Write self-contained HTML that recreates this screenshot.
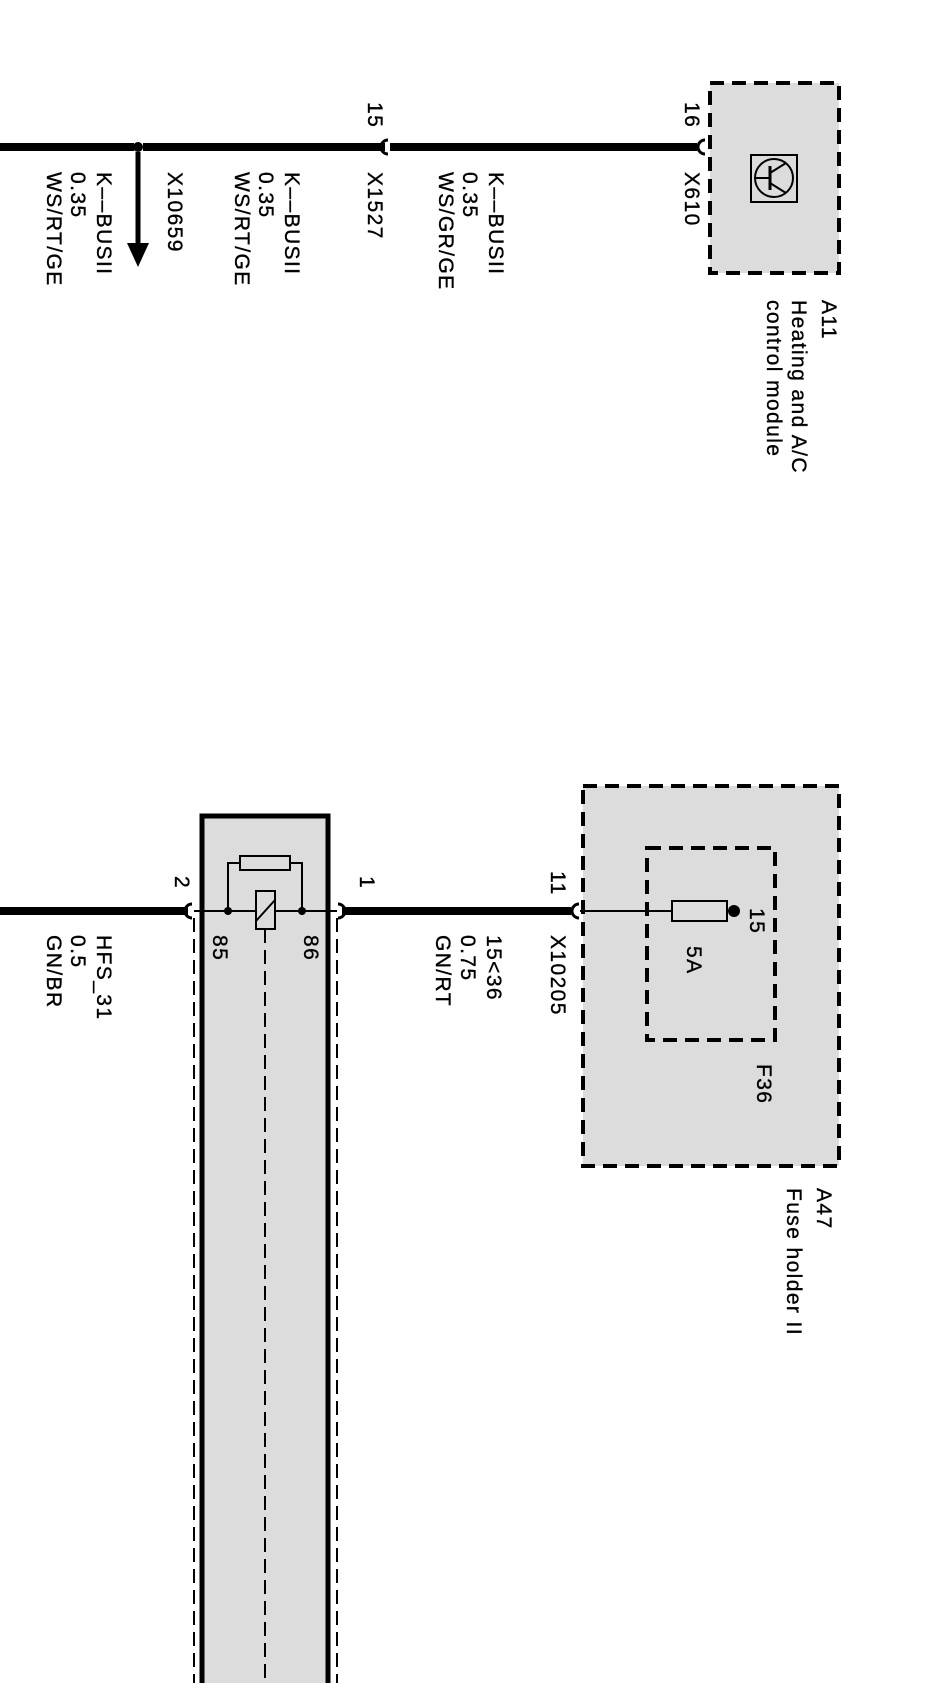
<!DOCTYPE html>
<html><head><meta charset="utf-8"><style>
html,body{margin:0;padding:0;background:#fff;}
svg{display:block;}
text{font-family:"Liberation Sans",Arial,sans-serif;font-size:21px;fill:#000;letter-spacing:1.4px;stroke:#000;stroke-width:0.35px;}
</style></head><body>
<svg width="951" height="1683" viewBox="0 0 951 1683" xmlns="http://www.w3.org/2000/svg">
<!-- A11 box -->
<rect x="710" y="83" width="129" height="190" fill="#dcdcdc" stroke="#000" stroke-width="4" stroke-dasharray="14,8"/>
<rect x="751" y="155" width="46" height="47" fill="none" stroke="#000" stroke-width="2"/>
<circle cx="774" cy="178" r="19" fill="none" stroke="#000" stroke-width="2"/>
<line x1="755" y1="178" x2="770" y2="178" stroke="#000" stroke-width="2"/>
<line x1="770" y1="166" x2="770" y2="190" stroke="#000" stroke-width="3"/>
<line x1="770" y1="173" x2="786" y2="163" stroke="#000" stroke-width="2"/>
<line x1="770" y1="183" x2="786" y2="193" stroke="#000" stroke-width="2"/>

<!-- wire 1 -->
<line x1="0" y1="147" x2="697" y2="147" stroke="#000" stroke-width="8"/>
<line x1="385" y1="147" x2="390" y2="147" stroke="#fff" stroke-width="10"/>
<path d="M705 140 A7 7 0 0 0 705 154" fill="none" stroke="#000" stroke-width="3"/>
<path d="M388 140 A7 7 0 0 0 388 154" fill="none" stroke="#000" stroke-width="3"/>
<line x1="134" y1="147" x2="143" y2="147" stroke="#fff" stroke-width="10"/>
<circle cx="138" cy="147" r="5" fill="#000"/>
<line x1="138" y1="152" x2="138" y2="245" stroke="#000" stroke-width="5"/>
<polygon points="127,243 149,243 138,267" fill="#000"/>

<g>
<text transform="translate(685,102) rotate(90)">16</text>
<text transform="translate(685,172) rotate(90)">X610</text>
<text transform="translate(368,102) rotate(90)">15</text>
<text transform="translate(368,172) rotate(90)">X1527</text>
<text transform="translate(489,172) rotate(90)">K––BUSII</text>
<text transform="translate(463,172) rotate(90)">0.35</text>
<text transform="translate(439,172) rotate(90)">WS/GR/GE</text>
<text transform="translate(168,172) rotate(90)">X10659</text>
<text transform="translate(285,172) rotate(90)">K––BUSII</text>
<text transform="translate(259,172) rotate(90)">0.35</text>
<text transform="translate(235,172) rotate(90)">WS/RT/GE</text>
<text transform="translate(97,172) rotate(90)">K––BUSII</text>
<text transform="translate(71,172) rotate(90)">0.35</text>
<text transform="translate(47,172) rotate(90)">WS/RT/GE</text>
<text transform="translate(822,300) rotate(90)">A11</text>
<text transform="translate(792,300) rotate(90)">Heating and A/C</text>
<text transform="translate(767,300) rotate(90)">control module</text>
</g>

<!-- A47 box -->
<rect x="583" y="786" width="256" height="380" fill="#dcdcdc" stroke="#000" stroke-width="4" stroke-dasharray="14,8"/>
<rect x="647" y="848" width="128" height="192" fill="none" stroke="#000" stroke-width="4" stroke-dasharray="14,8"/>
<line x1="580" y1="911" x2="732" y2="911" stroke="#000" stroke-width="2"/>
<rect x="672" y="901" width="55" height="20" fill="#dcdcdc" stroke="#000" stroke-width="2"/>
<circle cx="734" cy="911" r="6" fill="#000"/>
<text transform="translate(750,908) rotate(90)">15</text>
<text transform="translate(687,946) rotate(90)">5A</text>
<text transform="translate(757,1064) rotate(90)">F36</text>
<text transform="translate(817,1188) rotate(90)">A47</text>
<text transform="translate(787,1188) rotate(90)">Fuse holder II</text>

<!-- wire 2 -->
<line x1="0" y1="911" x2="188" y2="911" stroke="#000" stroke-width="8"/>
<line x1="342" y1="911" x2="571" y2="911" stroke="#000" stroke-width="8"/>
<path d="M579 904 A7 7 0 0 0 579 918" fill="none" stroke="#000" stroke-width="3"/>
<text transform="translate(551,871) rotate(90)">11</text>
<text transform="translate(551,935) rotate(90)">X10205</text>
<text transform="translate(487,935) rotate(90)">15&lt;36</text>
<text transform="translate(461,935) rotate(90)">0.75</text>
<text transform="translate(436,935) rotate(90)">GN/RT</text>

<!-- relay box -->
<rect x="202" y="816" width="126" height="880" fill="#dcdcdc" stroke="#000" stroke-width="5"/>
<line x1="194" y1="918" x2="194" y2="1683" stroke="#000" stroke-width="2" stroke-dasharray="14,7"/>
<line x1="337" y1="918" x2="337" y2="1683" stroke="#000" stroke-width="2" stroke-dasharray="14,7"/>
<path d="M192 904 A7 7 0 0 0 192 918" fill="none" stroke="#000" stroke-width="3"/>
<path d="M338 904 A7 7 0 0 1 338 918" fill="none" stroke="#000" stroke-width="3"/>
<line x1="194" y1="911" x2="337" y2="911" stroke="#000" stroke-width="2"/>
<polyline points="228,911 228,863 302,863 302,911" fill="none" stroke="#000" stroke-width="2"/>
<rect x="240" y="856" width="50" height="14" fill="#dcdcdc" stroke="#000" stroke-width="2"/>
<rect x="256" y="891" width="19" height="38" fill="#dcdcdc" stroke="#000" stroke-width="2"/>
<line x1="256" y1="921" x2="275" y2="900" stroke="#000" stroke-width="2"/>
<circle cx="228" cy="911" r="4" fill="#000"/>
<circle cx="302" cy="911" r="4" fill="#000"/>
<line x1="265" y1="929" x2="265" y2="1683" stroke="#000" stroke-width="2" stroke-dasharray="14,7"/>
<text transform="translate(213,935) rotate(90)">85</text>
<text transform="translate(304,935) rotate(90)">86</text>
<text transform="translate(360,876) rotate(90)">1</text>
<text transform="translate(175,876) rotate(90)">2</text>
<text transform="translate(97,935) rotate(90)">HFS_31</text>
<text transform="translate(71,935) rotate(90)">0.5</text>
<text transform="translate(47,935) rotate(90)">GN/BR</text>
</svg>
</body></html>
